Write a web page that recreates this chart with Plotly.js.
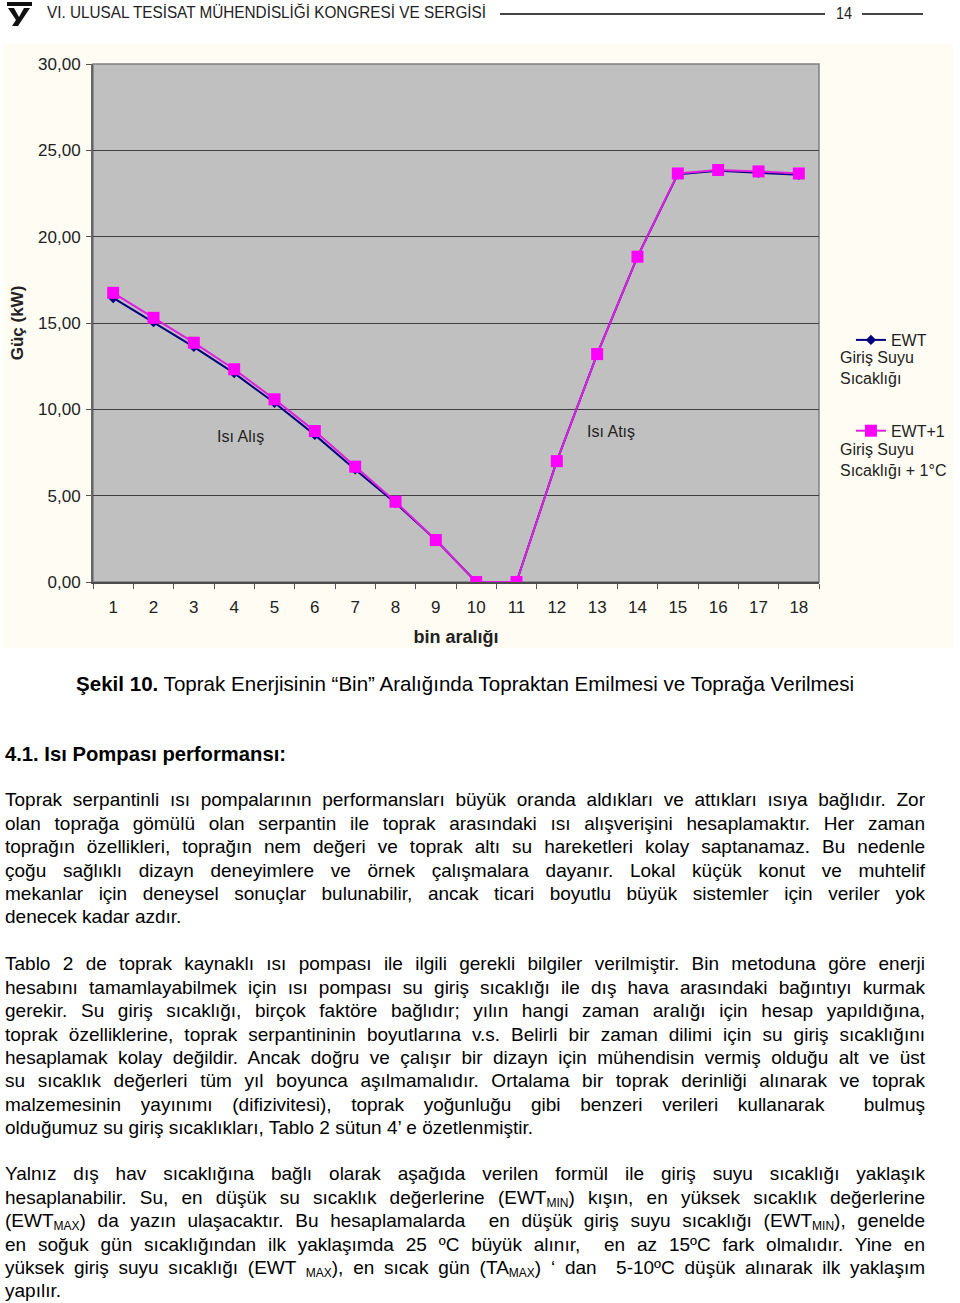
<!DOCTYPE html>
<html><head><meta charset="utf-8">
<script src="https://cdn.plot.ly/plotly-3.0.1.min.js"></script>
<style>
body{margin:0;background:#fff;width:960px;height:1303px;position:relative;overflow:hidden;font-family:"Liberation Sans",Arial,sans-serif;color:#000;}
#chart{position:absolute;left:3px;top:44px;width:950px;height:604px;}
.fit{position:absolute;white-space:nowrap;display:inline-block;transform-origin:0 50%;font-family:"Liberation Sans",Arial,sans-serif;}
.hline{position:absolute;height:1.5px;background:#444;top:13px;}
.para{position:absolute;left:5px;width:920px;font-size:19px;line-height:23.4px;}
.j{text-align:justify;text-align-last:justify;}
.l{text-align:left;}
sub{font-size:12px;vertical-align:-3px;line-height:0;}
</style></head>
<body>
<svg style="position:absolute;left:5px;top:2px" width="28" height="25" viewBox="0 0 28 25">
  <rect x="2" y="0" width="25" height="4" fill="#111"/>
  <path d="M3 6 L9 6 L14 15 L19 6 L25 6 L13 24 L7 24 L11 18 Z" fill="#111"/>
</svg>
<span class="fit" data-w="439" style="left:47px;top:3px;font-size:17px;line-height:20px;color:#222">VI. ULUSAL TESİSAT MÜHENDİSLİĞİ KONGRESİ VE SERGİSİ</span>
<div class="hline" style="left:500px;width:325px"></div>
<span class="fit" data-w="16" style="left:836px;top:4px;font-size:17px;line-height:20px;color:#222">14</span>
<div class="hline" style="left:862px;width:61px"></div>

<div id="chart"></div>

<span class="fit" data-w="778" style="left:76px;top:672px;font-size:21px;line-height:24px"><b>Şekil 10.</b> Toprak Enerjisinin “Bin” Aralığında Topraktan Emilmesi ve Toprağa Verilmesi</span>
<span class="fit" data-w="281" style="left:5px;top:742px;font-size:21px;line-height:24px;font-weight:bold">4.1. Isı Pompası performansı:</span>

<div class="para" style="top:788.3px">
<div class="j">Toprak serpantinli ısı pompalarının performansları büyük oranda aldıkları ve attıkları ısıya bağlıdır. Zor</div>
<div class="j">olan toprağa gömülü olan serpantin ile toprak arasındaki ısı alışverişini hesaplamaktır. Her zaman</div>
<div class="j">toprağın özellikleri, toprağın nem değeri ve toprak altı su hareketleri kolay saptanamaz. Bu nedenle</div>
<div class="j">çoğu sağlıklı dizayn deneyimlere ve örnek çalışmalara dayanır. Lokal küçük konut ve muhtelif</div>
<div class="j">mekanlar için deneysel sonuçlar bulunabilir, ancak ticari boyutlu büyük sistemler için veriler yok</div>
<div class="l">denecek kadar azdır.</div>
</div>

<div class="para" style="top:952.3px">
<div class="j">Tablo 2 de toprak kaynaklı ısı pompası ile ilgili gerekli bilgiler verilmiştir. Bin metoduna göre enerji</div>
<div class="j">hesabını tamamlayabilmek için ısı pompası su giriş sıcaklığı ile dış hava arasındaki bağıntıyı kurmak</div>
<div class="j">gerekir. Su giriş sıcaklığı, birçok faktöre bağlıdır; yılın hangi zaman aralığı için hesap yapıldığına,</div>
<div class="j">toprak özelliklerine, toprak serpantininin boyutlarına v.s. Belirli bir zaman dilimi için su giriş sıcaklığını</div>
<div class="j">hesaplamak kolay değildir. Ancak doğru ve çalışır bir dizayn için mühendisin vermiş olduğu alt ve üst</div>
<div class="j">su sıcaklık değerleri tüm yıl boyunca aşılmamalıdır. Ortalama bir toprak derinliği alınarak ve toprak</div>
<div class="j">malzemesinin yayınımı (difizivitesi), toprak yoğunluğu gibi benzeri verileri kullanarak &nbsp;bulmuş</div>
<div class="l">olduğumuz su giriş sıcaklıkları, Tablo 2 sütun 4’ e özetlenmiştir.</div>
</div>

<div class="para" style="top:1162.3px">
<div class="j">Yalnız dış hav sıcaklığına bağlı olarak aşağıda verilen formül ile giriş suyu sıcaklığı yaklaşık</div>
<div class="j">hesaplanabilir. Su, en düşük su sıcaklık değerlerine (EWT<sub>MIN</sub>) kışın, en yüksek sıcaklık değerlerine</div>
<div class="j">(EWT<sub>MAX</sub>) da yazın ulaşacaktır. Bu hesaplamalarda &nbsp;en düşük giriş suyu sıcaklığı (EWT<sub>MIN</sub>), genelde</div>
<div class="j">en soğuk gün sıcaklığından ilk yaklaşımda 25 ºC büyük alınır, &nbsp;en az 15ºC fark olmalıdır. Yine en</div>
<div class="j">yüksek giriş suyu sıcaklığı (EWT <sub>MAX</sub>), en sıcak gün (TA<sub>MAX</sub>) ‘ dan &nbsp;5-10ºC düşük alınarak ilk yaklaşım</div>
<div class="l">yapılır.</div>
</div>

<script>
document.querySelectorAll('.fit').forEach(function(el){
  var w = el.getBoundingClientRect().width;
  var target = parseFloat(el.getAttribute('data-w'));
  if (w > 0) el.style.transform = 'scaleX(' + (target / w) + ')';
});

const bins = ['1','2','3','4','5','6','7','8','9','10','11','12','13','14','15','16','17','18'];
const ewtValues  = [16.45, 15.05, 13.62, 12.10, 10.38, 8.52, 6.52, 4.58, 2.43, 0, 0, 7.00, 13.20, 18.84, 23.62, 23.82, 23.70, 23.58];
const ewt1Values = [16.75, 15.30, 13.86, 12.32, 10.58, 8.74, 6.68, 4.65, 2.43, 0, 0, 7.00, 13.20, 18.84, 23.66, 23.86, 23.78, 23.66];
const seriesNames = ['EWT', 'EWT+1'];
const seriesSub = ['Giriş Suyu<br>Sıcaklığı', 'Giriş Suyu<br>Sıcaklığı + 1°C'];
const regionLabels = ['Isı Alış', 'Isı Atış'];
const yTitle = 'Güç (kW)';
const xTitle = 'bin aralığı';

const F = 'Liberation Sans, Arial, sans-serif';
const traces = [
  {x: bins, y: ewtValues, name: seriesNames[0], legendgroup: 'a', type: 'scatter', mode: 'lines+markers',
   line: {color: '#000080', width: 2}, marker: {symbol: 'diamond', size: 8, color: '#000080'}},
  {x: bins, y: ewt1Values, name: seriesNames[1], legendgroup: 'b', type: 'scatter', mode: 'lines+markers',
   line: {color: '#e020e0', width: 2}, marker: {symbol: 'square', size: 12, color: '#ff00ff'}}
];
const layout = {
  width: 950, height: 604,
  margin: {l: 90, r: 134, t: 20, b: 66, autoexpand: false},
  paper_bgcolor: '#fffcf3', plot_bgcolor: '#c0c0c0',
  separators: ',.',
  font: {family: F, size: 17, color: '#222'},
  showlegend: true,
  legend: {x: 1.044, xanchor: 'left', y: 0.5, yanchor: 'top', bgcolor: 'rgba(0,0,0,0)',
           font: {family: F, size: 16, color: '#222'}, tracegroupgap: 67, traceorder: 'grouped'},
  xaxis: {type: 'category', range: [-0.5, 17.5], tickson: 'boundaries', ticks: 'outside', ticklen: 5, tickcolor: '#555',
          showline: true, linecolor: '#4d4d4d', linewidth: 2, showgrid: false, zeroline: false,
          ticklabelstandoff: 9,
          tickfont: {family: F, size: 17, color: '#222'},
          title: {text: xTitle, font: {family: F, size: 18, color: '#222', weight: 'bold'}, standoff: 14}},
  yaxis: {range: [0, 30], dtick: 5, tickformat: '.2f', ticks: 'outside', ticklen: 5, tickcolor: '#555',
          showline: true, linecolor: '#666', linewidth: 2, gridcolor: '#404040', gridwidth: 1, zeroline: false,
          ticklabelstandoff: 2,
          tickfont: {family: F, size: 17, color: '#222'},
          title: {text: yTitle, font: {family: F, size: 17, color: '#222', weight: 'bold'}, standoff: 10}},
  shapes: [{type: 'rect', xref: 'paper', yref: 'paper', x0: 0, x1: 1, y0: 0, y1: 1,
            line: {color: '#7f7f7f', width: 1.5}, layer: 'below'}],
  annotations: [
    {xref: 'paper', yref: 'paper', x: 0.2025, y: 0.28, xanchor: 'center', yanchor: 'middle', text: regionLabels[0], showarrow: false,
     font: {family: F, size: 16, color: '#222'}},
    {xref: 'paper', yref: 'paper', x: 0.7135, y: 0.2915, xanchor: 'center', yanchor: 'middle', text: regionLabels[1], showarrow: false,
     font: {family: F, size: 16, color: '#222'}},
    {xref: 'paper', yref: 'paper', x: 1.0262, y: 0.453, xanchor: 'left', yanchor: 'top', align: 'left',
     text: seriesSub[0], showarrow: false, font: {family: F, size: 16, color: '#222'}},
    {xref: 'paper', yref: 'paper', x: 1.0262, y: 0.277, xanchor: 'left', yanchor: 'top', align: 'left',
     text: seriesSub[1], showarrow: false, font: {family: F, size: 16, color: '#222'}}
  ]
};
Plotly.newPlot('chart', traces, layout, {displayModeBar: false, staticPlot: true});
</script>
</body></html>
